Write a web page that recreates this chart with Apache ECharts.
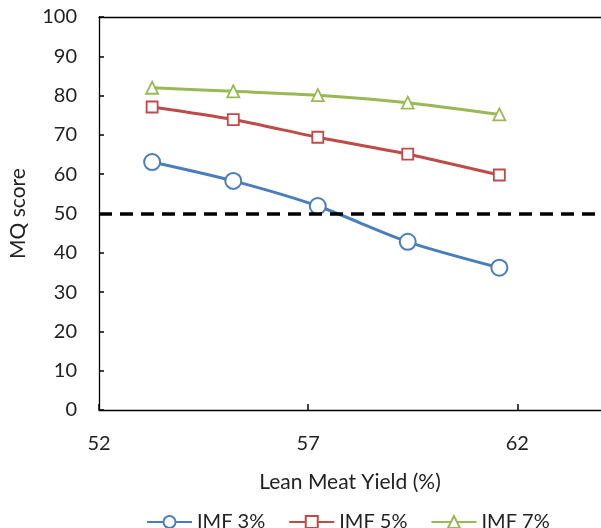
<!DOCTYPE html>
<html>
<head>
<meta charset="utf-8">
<script src="https://cdn.jsdelivr.net/npm/echarts@6/dist/echarts.min.js"></script>
<style>
html,body{margin:0;padding:0;background:#fff;}
#c{width:601px;height:528px;}
</style>
</head>
<body>
<div id="c"></div>
<script>
const leanMeatYield = [53.27, 55.21, 57.23, 59.38, 61.57];
const imf3 = [63.1, 58.3, 51.9, 42.8, 36.2];
const imf5 = [77.1, 73.9, 69.4, 65.1, 59.8];
const imf7 = [82.0, 81.1, 80.1, 78.2, 75.2];
const seriesNames = ['IMF 3%', 'IMF 5%', 'IMF 7%'];
const threshold = 50;

const FONT = 'Lato';
const pair = (xs, ys) => xs.map((x, i) => [x, ys[i]]);

const chart = echarts.init(document.getElementById('c'), null, {renderer: 'canvas'});
chart.setOption({
  animation: false,
  backgroundColor: '#fff',
  textStyle: {fontFamily: FONT},
  grid: {left: 94, top: 17, width: 511, bottom: 118, containLabel: false},
  legend: {
    left: 141, top: 507, itemWidth: 45, itemHeight: 15, itemGap: 23,
    textStyle: {fontFamily: FONT, fontSize: 20, color: '#222', padding: [7, 0, 0, 0]},
    data: seriesNames
  },
  xAxis: [{
    type: 'value', min: 52, max: 64, interval: 5,
    name: 'Lean Meat Yield (%)', nameLocation: 'middle', nameGap: 62,
    nameTextStyle: {fontFamily: FONT, fontSize: 21, color: '#222'},
    axisLine: {lineStyle: {color: '#000', width: 1.3}},
    axisTick: {inside: true, length: 6, lineStyle: {color: '#000', width: 1.5}},
    axisLabel: {fontFamily: FONT, fontSize: 20, color: '#222', margin: 24, showMaxLabel: false},
    splitLine: {show: false}
  }, {
    type: 'value', position: 'top', min: 52, max: 64,
    axisLine: {show: true, lineStyle: {color: '#000', width: 1.3}},
    axisTick: {show: false}, axisLabel: {show: false}, splitLine: {show: false}
  }],
  yAxis: {
    type: 'value', min: 0, max: 100, interval: 10,
    name: 'MQ score', nameLocation: 'middle', nameGap: 70,
    nameTextStyle: {fontFamily: FONT, fontSize: 21, color: '#222'},
    axisLine: {show: true, lineStyle: {color: '#000', width: 1.3}},
    axisTick: {show: true, inside: true, length: 5, lineStyle: {color: '#000', width: 1.5}},
    axisLabel: {fontFamily: FONT, fontSize: 20, color: '#222', margin: 22},
    splitLine: {show: false}
  },
  series: [
    {
      name: seriesNames[0], type: 'line', data: pair(leanMeatYield, imf3),
      smooth: 0.25, symbol: 'emptyCircle', symbolSize: 16,
      lineStyle: {color: '#4a7ebb', width: 3},
      itemStyle: {color: '#4a7ebb', borderWidth: 2},
      markLine: {
        silent: true, symbol: 'none', label: {show: false},
        lineStyle: {color: '#000', width: 3.5, type: [13, 8]},
        data: [{yAxis: threshold}]
      },
      z: 3
    },
    {
      name: seriesNames[1], type: 'line', data: pair(leanMeatYield, imf5),
      smooth: 0.25, symbol: 'rect', symbolSize: 11,
      lineStyle: {color: '#be4b48', width: 3},
      itemStyle: {color: '#fff', borderColor: '#be4b48', borderWidth: 1.8}
    },
    {
      name: seriesNames[2], type: 'line', data: pair(leanMeatYield, imf7),
      smooth: 0.25, symbol: 'triangle', symbolSize: 12,
      lineStyle: {color: '#98b954', width: 3},
      itemStyle: {color: '#fff', borderColor: '#98b954', borderWidth: 1.8}
    }
  ]
});
</script>
</body>
</html>
